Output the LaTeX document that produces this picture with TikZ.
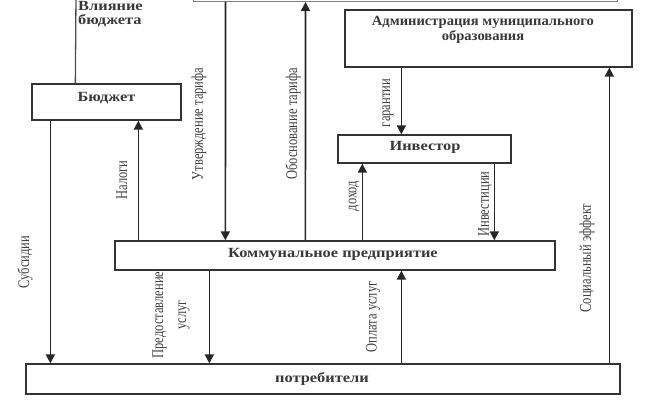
\documentclass[tikz,border=0pt]{standalone}
\usepackage{fontspec}
\setmainfont{Liberation Serif}
\usetikzlibrary{arrows.meta}
\newcommand\hs[1]{\scalebox{1.17}[1]{#1}}
\newcommand\vs[1]{\scalebox{1}[1.3]{#1}}
\begin{document}
\begin{tikzpicture}[x=1pt,y=-1pt,
  box/.style={draw=black!80, line width=1.3pt, rectangle, inner sep=0pt},
  flow/.style={draw=black!85, line width=1.7pt, -{Triangle[width=9pt,length=9pt]}},
  plain/.style={draw=black!70, line width=1.3pt},
  lbl/.style={rotate=90, inner sep=0pt, font=\fontsize{12.5}{17.7}\selectfont, text=black!75},
  btxt/.style={font=\fontsize{14}{16}\selectfont\bfseries, text=black!78, inner sep=0pt}
]
\useasboundingbox (0,0) rectangle (655,401);
\clip (0,0) rectangle (655,401);

% boxes
\node[box, draw=black!50, line width=1pt, minimum width=424pt, minimum height=43pt] (top) at (405,-20) {};
\node[box, minimum width=149pt, minimum height=36pt] (budget) at (106.5,102) {};
\node[btxt] (budgettxt) at (106.5,98) {\hs{Бюджет}};
\node[box, minimum width=287pt, minimum height=57pt] (admin) at (488.5,38.5) {};
\node[btxt, anchor=north] (admintxt) at (483,16) {\scalebox{1.04}[1]{\fontsize{14}{14}\selectfont\begin{tabular}{@{}c@{}}Администрация муниципального\\образования\end{tabular}}};
\node[box, minimum width=173pt, minimum height=28pt] (inv) at (424.5,149) {};
\node[btxt] (invtxt) at (425,147.5) {\hs{Инвестор}};
\node[box, minimum width=440pt, minimum height=29pt] (komm) at (335,255.5) {};
\node[btxt] (kommtxt) at (333,254.5) {\hs{Коммунальное предприятие}};
\node[box, minimum width=594pt, minimum height=30pt] (potr) at (323,379) {};
\node[btxt] (potrtxt) at (322,379) {\hs{потребители}};

% budget influence
\node[btxt, anchor=north west] (infltxt) at (78,1.5) {\hs{\fontsize{14}{13}\selectfont\begin{tabular}{@{}l@{}}Влияние\\бюджета\end{tabular}}};
\coordinate (infl) at (76,-5);
\draw[plain] ([xshift=44pt]budget.north west) -- (infl);

% connectors
\draw[flow] ([xshift=33pt]top.south west) -- ([xshift=111pt]komm.north west);
\draw[flow] ([xshift=191pt]komm.north west) -- ([xshift=113pt]top.south west);
\draw[flow] ([xshift=57pt]admin.south west) -- ([xshift=64pt]inv.north west);
\draw[flow] ([xshift=248pt]komm.north west) -- ([xshift=25pt]inv.south west);
\draw[flow] ([xshift=157pt]inv.south west) -- ([xshift=380pt]komm.north west);
\draw[flow] ([xshift=24pt]komm.north west) -- ([xshift=107pt]budget.south west);
\draw[flow] ([xshift=19pt]budget.south west) -- ([xshift=25pt]potr.north west);
\draw[flow] ([xshift=95pt]komm.south west) -- ([xshift=184pt]potr.north west);
\draw[flow] ([xshift=376pt]potr.north west) -- ([xshift=287pt]komm.south west);
\draw[flow] ([xshift=584pt]potr.north west) -- ([xshift=265pt]admin.south west);

% labels
\node[lbl] (l1) at (199,124) {\vs{Утверждение тарифа}};
\node[lbl] (l2) at (293,124) {\vs{Обоснование тарифа}};
\node[lbl] (l3) at (388,103) {\vs{гарантии}};
\node[lbl] (l4) at (122,180) {\vs{Налоги}};
\node[lbl] (l5) at (354,196) {\vs{доход}};
\node[lbl] (l6) at (485,204) {\vs{Инвестиции}};
\node[lbl] (l7) at (25,262) {\vs{Субсидии}};
\node[lbl] (l8) at (170,315) {\vs{\begin{tabular}{@{}c@{}}Предоставление\\услуг\end{tabular}}};
\node[lbl] (l9) at (373,317) {\vs{Оплата услуг}};
\node[lbl] (l10) at (587,258) {\vs{Социальный эффект}};
\end{tikzpicture}
\end{document}
